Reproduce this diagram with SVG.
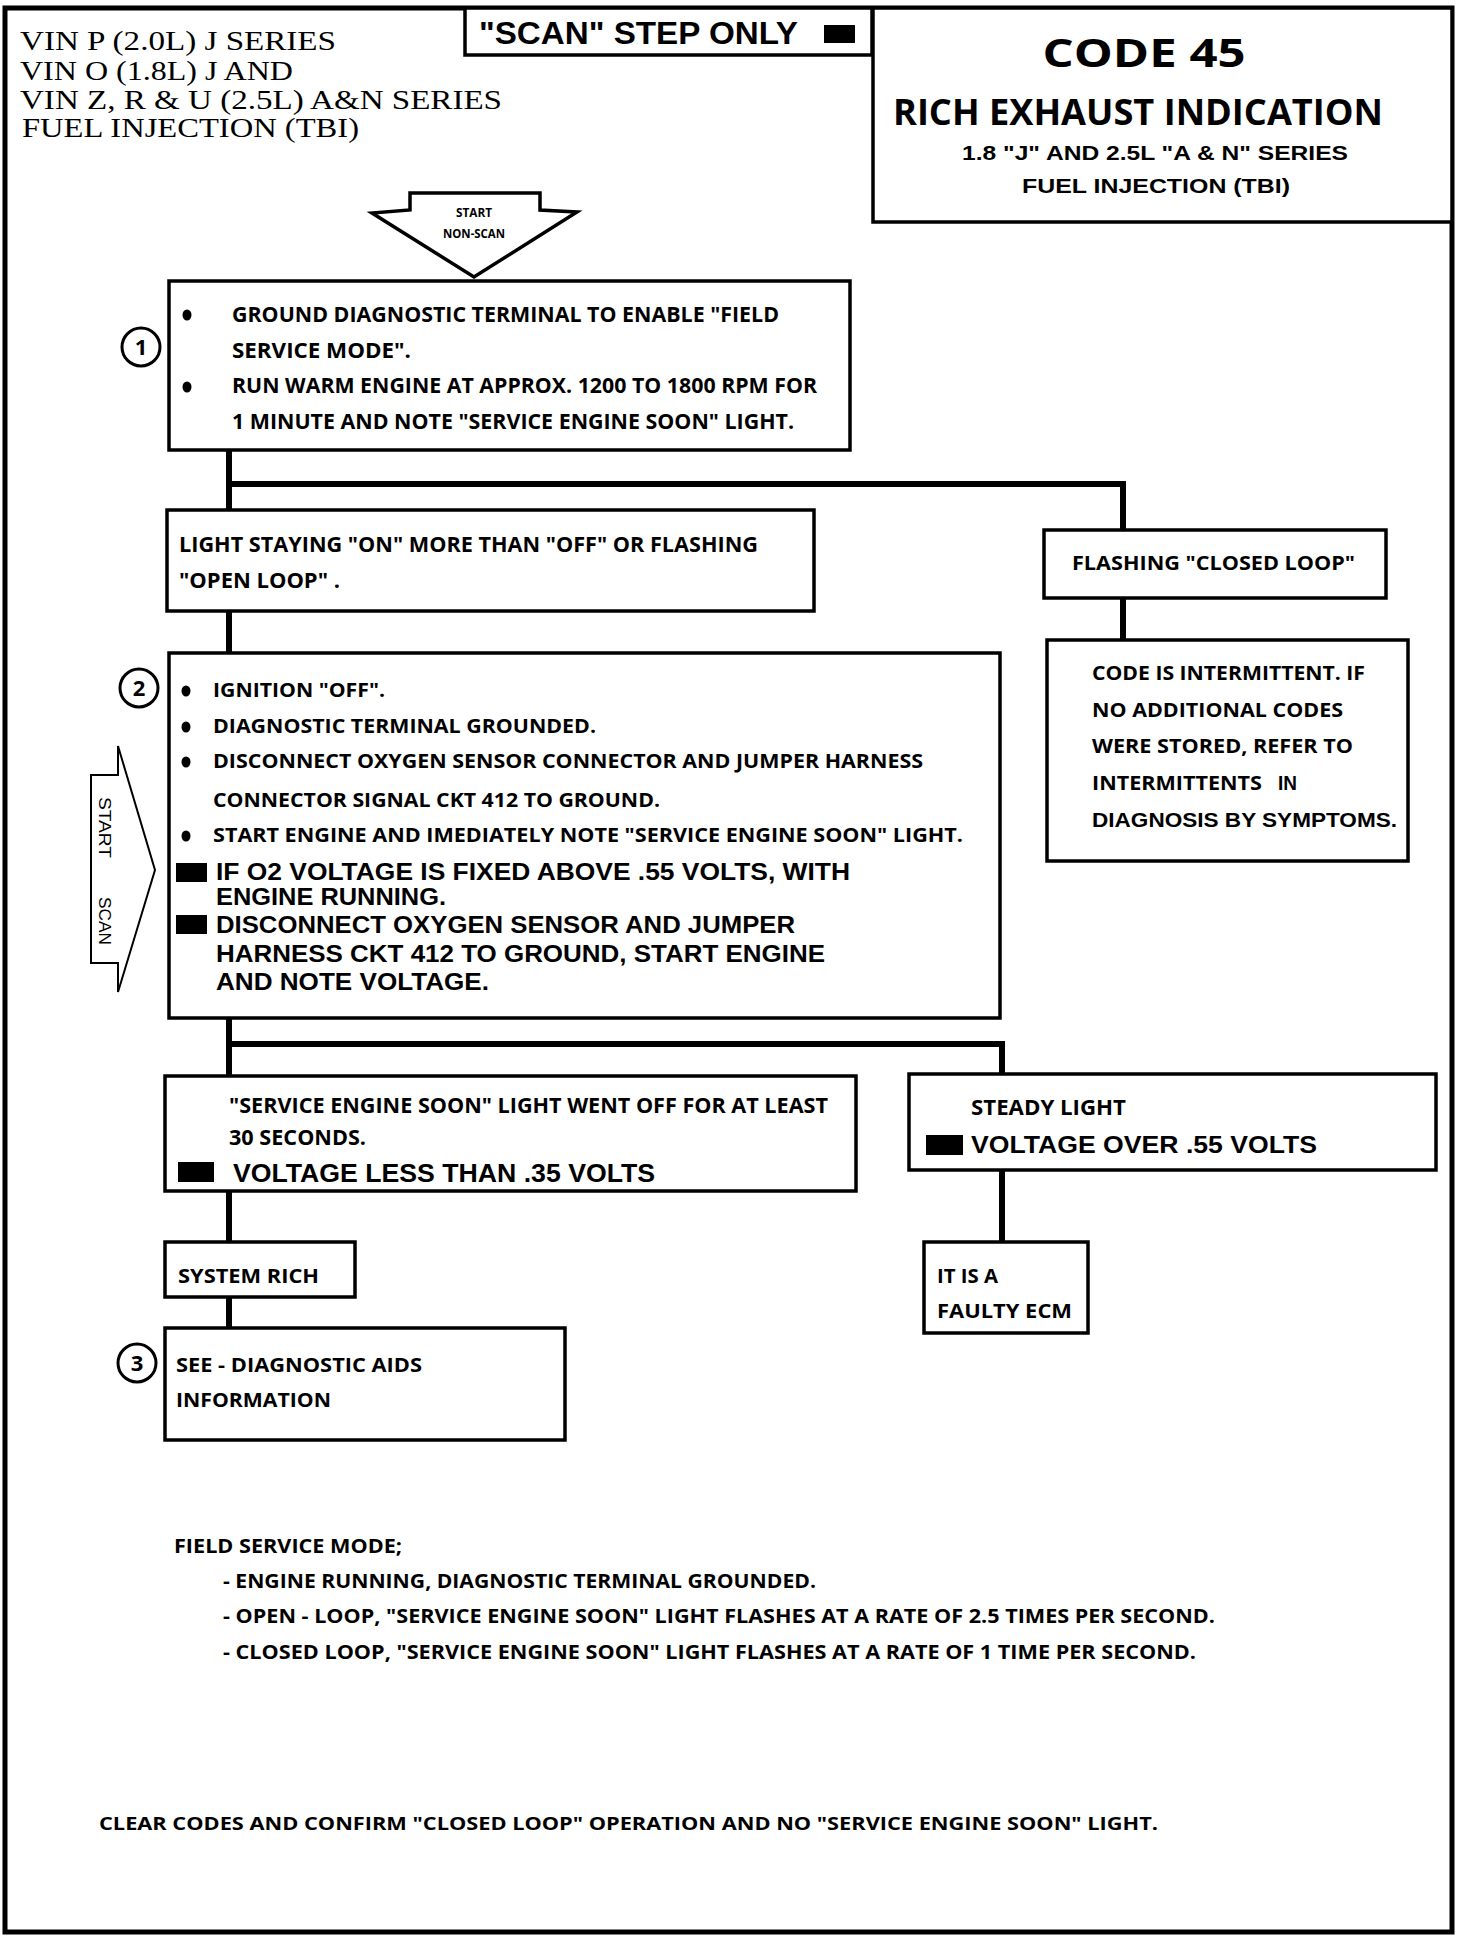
<svg xmlns="http://www.w3.org/2000/svg" width="1472" height="1940" viewBox="0 0 1472 1940">
<style>
.box{fill:#fff;stroke:#000;stroke-width:3.5}
.conn{fill:none;stroke:#000;stroke-width:6}
.c{font-family:"Open Sans","DejaVu Sans",sans-serif;font-weight:700;fill:#000}
.h{font-family:"Liberation Sans",Arial,sans-serif;fill:#000}
.s{font-family:"Liberation Serif","Times New Roman",serif;fill:#000}
.sq{fill:#000}
.num{fill:#fff;stroke:#000;stroke-width:3}
</style>
<rect width="1472" height="1940" fill="#fff"/>
<rect x="5" y="8" width="1447" height="1924" fill="none" stroke="#000" stroke-width="5"/>

<g id="header-vin">
<text class="s" font-size="28" x="20" y="50" textLength="316" lengthAdjust="spacingAndGlyphs">VIN  P  (2.0L)  J  SERIES</text>
<text class="s" font-size="28" x="20" y="80" textLength="273" lengthAdjust="spacingAndGlyphs">VIN O (1.8L) J AND</text>
<text class="s" font-size="28" x="20" y="109" textLength="482" lengthAdjust="spacingAndGlyphs">VIN Z, R &amp; U (2.5L) A&amp;N SERIES</text>
<text class="s" font-size="28" x="22" y="137" textLength="337" lengthAdjust="spacingAndGlyphs">FUEL INJECTION (TBI)</text>
</g>

<g id="scan-step-only">
<rect class="box" x="465" y="8" width="407" height="47"/>
<text class="h" font-weight="700" font-size="31" x="479" y="44" textLength="319" lengthAdjust="spacingAndGlyphs">"SCAN" STEP ONLY</text>
<rect class="sq" x="824" y="25" width="31" height="18"/>
</g>

<g id="title">
<rect class="box" x="873" y="8" width="579" height="214"/>
<text class="c" font-size="40" x="1144" y="67" text-anchor="middle" textLength="203" lengthAdjust="spacingAndGlyphs">CODE 45</text>
<text class="c" font-size="35" x="1138" y="125" text-anchor="middle" textLength="490" lengthAdjust="spacingAndGlyphs">RICH EXHAUST INDICATION</text>
<text class="h" font-weight="700" font-size="20" x="1155" y="160" text-anchor="middle" textLength="386" lengthAdjust="spacingAndGlyphs">1.8 "J" AND 2.5L "A &amp; N" SERIES</text>
<text class="h" font-weight="700" font-size="20" x="1156" y="193" text-anchor="middle" textLength="268" lengthAdjust="spacingAndGlyphs">FUEL INJECTION (TBI)</text>
</g>

<g id="start-nonscan">
<polygon points="410,193 540,193 540,210 577,212 474,277 372,213 410,210" fill="#fff" stroke="#000" stroke-width="3.5" stroke-linejoin="miter"/>
<text class="c" font-size="13" x="474" y="217" text-anchor="middle" textLength="36" lengthAdjust="spacingAndGlyphs">START</text>
<text class="c" font-size="13" x="474" y="238" text-anchor="middle" textLength="62" lengthAdjust="spacingAndGlyphs">NON-SCAN</text>
</g>

<g id="connectors">
<path class="conn" d="M229,450 V510"/>
<path class="conn" d="M229,484 H1123 V530"/>
<path class="conn" d="M1123,598 V640"/>
<path class="conn" d="M229,612 V653"/>
<path class="conn" d="M229,1018 V1076"/>
<path class="conn" d="M229,1044 H1002 V1074"/>
<path class="conn" d="M229,1192 V1242"/>
<path class="conn" d="M1002,1170 V1242"/>
<path class="conn" d="M229,1297 V1328"/>
</g>

<g id="step1">
<rect class="box" x="169" y="281" width="681" height="169"/>
<circle class="num" cx="141" cy="347" r="19"/>
<text class="c" font-size="22" x="141" y="355" text-anchor="middle">1</text>
<ellipse cx="187" cy="315" rx="4.5" ry="5.5"/>
<ellipse cx="187" cy="387" rx="4.5" ry="5.5"/>
<text class="c" font-size="22" x="232" y="322" textLength="547" lengthAdjust="spacingAndGlyphs">GROUND DIAGNOSTIC TERMINAL TO ENABLE "FIELD</text>
<text class="c" font-size="22" x="232" y="358" textLength="179" lengthAdjust="spacingAndGlyphs">SERVICE MODE".</text>
<text class="c" font-size="22" x="232" y="393" textLength="585" lengthAdjust="spacingAndGlyphs">RUN WARM ENGINE AT APPROX. 1200 TO 1800 RPM FOR</text>
<text class="c" font-size="22" x="232" y="429" textLength="562" lengthAdjust="spacingAndGlyphs">1 MINUTE AND NOTE "SERVICE ENGINE SOON" LIGHT.</text>
</g>

<g id="light-staying-on">
<rect class="box" x="167" y="510" width="647" height="101"/>
<text class="c" font-size="21" x="179" y="552" textLength="579" lengthAdjust="spacingAndGlyphs">LIGHT STAYING "ON" MORE THAN "OFF" OR FLASHING</text>
<text class="c" font-size="21" x="179" y="588" textLength="161" lengthAdjust="spacingAndGlyphs">"OPEN LOOP" .</text>
</g>

<g id="flashing-closed-loop">
<rect class="box" x="1044" y="530" width="342" height="68"/>
<text class="c" font-size="20" x="1072" y="570" textLength="283" lengthAdjust="spacingAndGlyphs">FLASHING "CLOSED LOOP"</text>
</g>

<g id="code-intermittent">
<rect class="box" x="1047" y="640" width="361" height="221"/>
<text class="c" font-size="19" x="1092" y="680" textLength="273" lengthAdjust="spacingAndGlyphs">CODE IS INTERMITTENT. IF</text>
<text class="c" font-size="19" x="1092" y="717" textLength="251" lengthAdjust="spacingAndGlyphs">NO ADDITIONAL CODES</text>
<text class="c" font-size="19" x="1092" y="753" textLength="261" lengthAdjust="spacingAndGlyphs">WERE STORED, REFER TO</text>
<text class="c" font-size="19" x="1092" y="790" textLength="170" lengthAdjust="spacingAndGlyphs">INTERMITTENTS</text>
<text class="h" font-size="21" font-weight="700" x="1278" y="790" textLength="19" lengthAdjust="spacingAndGlyphs">IN</text>
<text class="h" font-size="21" font-weight="700" x="1092" y="827" textLength="305" lengthAdjust="spacingAndGlyphs">DIAGNOSIS BY SYMPTOMS.</text>
</g>

<g id="start-scan">
<polygon points="91,775 118,775 118,746 155,870 118,992 118,963 91,963" fill="#fff" stroke="#000" stroke-width="2"/>
<text class="h" font-size="16" transform="translate(99,797) rotate(90)" textLength="61" lengthAdjust="spacingAndGlyphs">START</text>
<text class="h" font-size="16" transform="translate(99,897) rotate(90)" textLength="48" lengthAdjust="spacingAndGlyphs">SCAN</text>
</g>

<g id="step2">
<rect class="box" x="169" y="653" width="831" height="365"/>
<circle class="num" cx="139" cy="688" r="19"/>
<text class="c" font-size="22" x="139" y="696" text-anchor="middle">2</text>
<ellipse cx="186" cy="691" rx="4.5" ry="5.5"/>
<ellipse cx="186" cy="727" rx="4.5" ry="5.5"/>
<ellipse cx="186" cy="762" rx="4.5" ry="5.5"/>
<ellipse cx="186" cy="836" rx="4.5" ry="5.5"/>
<text class="c" font-size="19" x="213" y="697" textLength="172" lengthAdjust="spacingAndGlyphs">IGNITION "OFF".</text>
<text class="c" font-size="19" x="213" y="733" textLength="383" lengthAdjust="spacingAndGlyphs">DIAGNOSTIC TERMINAL GROUNDED.</text>
<text class="c" font-size="19" x="213" y="768" textLength="710" lengthAdjust="spacingAndGlyphs">DISCONNECT OXYGEN SENSOR CONNECTOR AND JUMPER HARNESS</text>
<text class="c" font-size="19" x="213" y="807" textLength="447" lengthAdjust="spacingAndGlyphs">CONNECTOR SIGNAL CKT 412 TO GROUND.</text>
<text class="c" font-size="19" x="213" y="842" textLength="750" lengthAdjust="spacingAndGlyphs">START ENGINE AND IMEDIATELY NOTE "SERVICE ENGINE SOON" LIGHT.</text>
<rect class="sq" x="176" y="863" width="31" height="19"/>
<text class="h" font-size="24" font-weight="700" x="216" y="880" textLength="634" lengthAdjust="spacingAndGlyphs">IF O2 VOLTAGE IS FIXED ABOVE .55 VOLTS, WITH</text>
<text class="h" font-size="24" font-weight="700" x="216" y="905" textLength="230" lengthAdjust="spacingAndGlyphs">ENGINE RUNNING.</text>
<rect class="sq" x="176" y="915" width="31" height="19"/>
<text class="h" font-size="24" font-weight="700" x="216" y="933" textLength="579" lengthAdjust="spacingAndGlyphs">DISCONNECT OXYGEN SENSOR AND JUMPER</text>
<text class="h" font-size="24" font-weight="700" x="216" y="962" textLength="609" lengthAdjust="spacingAndGlyphs">HARNESS CKT 412 TO GROUND, START ENGINE</text>
<text class="h" font-size="24" font-weight="700" x="216" y="990" textLength="273" lengthAdjust="spacingAndGlyphs">AND NOTE VOLTAGE.</text>
</g>

<g id="light-went-off">
<rect class="box" x="165" y="1076" width="691" height="115"/>
<text class="c" font-size="21" x="229" y="1113" textLength="599" lengthAdjust="spacingAndGlyphs">"SERVICE ENGINE SOON" LIGHT WENT OFF FOR AT LEAST</text>
<text class="c" font-size="21" x="229" y="1145" textLength="137" lengthAdjust="spacingAndGlyphs">30 SECONDS.</text>
<rect class="sq" x="178" y="1162" width="36" height="20"/>
<text class="h" font-size="25" font-weight="700" x="233" y="1182" textLength="422" lengthAdjust="spacingAndGlyphs">VOLTAGE LESS THAN .35 VOLTS</text>
</g>

<g id="steady-light">
<rect class="box" x="909" y="1074" width="527" height="96"/>
<text class="c" font-size="21" x="971" y="1115" textLength="155" lengthAdjust="spacingAndGlyphs">STEADY LIGHT</text>
<rect class="sq" x="926" y="1135" width="37" height="20"/>
<text class="h" font-size="24" font-weight="700" x="971" y="1153" textLength="346" lengthAdjust="spacingAndGlyphs">VOLTAGE OVER .55 VOLTS</text>
</g>

<g id="system-rich">
<rect class="box" x="165" y="1242" width="190" height="55"/>
<text class="c" font-size="20" x="178" y="1283" textLength="141" lengthAdjust="spacingAndGlyphs">SYSTEM RICH</text>
</g>

<g id="faulty-ecm">
<rect class="box" x="924" y="1242" width="164" height="91"/>
<text class="c" font-size="20" x="937" y="1283" textLength="61" lengthAdjust="spacingAndGlyphs">IT IS A</text>
<text class="c" font-size="20" x="937" y="1318" textLength="135" lengthAdjust="spacingAndGlyphs">FAULTY ECM</text>
</g>

<g id="step3">
<rect class="box" x="165" y="1328" width="400" height="112"/>
<circle class="num" cx="137" cy="1363" r="19"/>
<text class="c" font-size="22" x="137" y="1371" text-anchor="middle">3</text>
<text class="c" font-size="19" x="176" y="1372" textLength="246" lengthAdjust="spacingAndGlyphs">SEE - DIAGNOSTIC AIDS</text>
<text class="c" font-size="19" x="176" y="1407" textLength="155" lengthAdjust="spacingAndGlyphs">INFORMATION</text>
</g>

<g id="field-service-mode-notes">
<text class="c" font-size="19" x="174" y="1553" textLength="228" lengthAdjust="spacingAndGlyphs">FIELD SERVICE MODE;</text>
<text class="c" font-size="19" x="223" y="1588" textLength="593" lengthAdjust="spacingAndGlyphs">- ENGINE RUNNING, DIAGNOSTIC TERMINAL GROUNDED.</text>
<text class="c" font-size="19" x="223" y="1623" textLength="992" lengthAdjust="spacingAndGlyphs">- OPEN - LOOP, "SERVICE ENGINE SOON" LIGHT FLASHES AT A RATE OF 2.5 TIMES PER SECOND.</text>
<text class="c" font-size="19" x="223" y="1659" textLength="973" lengthAdjust="spacingAndGlyphs">- CLOSED LOOP, "SERVICE ENGINE SOON" LIGHT FLASHES AT A RATE OF 1 TIME PER SECOND.</text>
</g>

<g id="clear-codes">
<text class="c" font-size="18" x="99" y="1830" textLength="1059" lengthAdjust="spacingAndGlyphs">CLEAR CODES AND CONFIRM "CLOSED LOOP"  OPERATION AND NO "SERVICE ENGINE SOON" LIGHT.</text>
</g>
</svg>
